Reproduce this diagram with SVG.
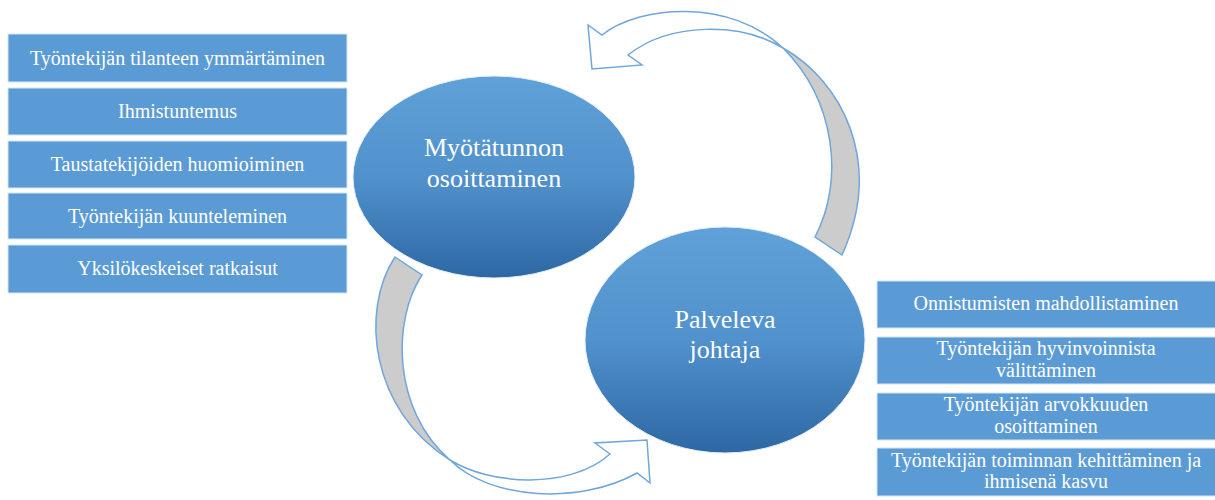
<svg xmlns="http://www.w3.org/2000/svg" width="1215" height="500" viewBox="0 0 1215 500">
<defs>
<linearGradient id="eg" x1="0" y1="0" x2="0" y2="1">
<stop offset="0" stop-color="#5fa1d8"/>
<stop offset="0.5" stop-color="#5191cc"/>
<stop offset="1" stop-color="#2d68a4"/>
</linearGradient>
<style>
.box{fill:#5b9bd5;stroke:#d6e5f4;stroke-width:1}
.bt{font-family:"Liberation Serif",serif;font-size:20px;fill:#ffffff;text-anchor:middle}
.et{font-family:"Liberation Serif",serif;font-size:26px;fill:#ffffff;text-anchor:middle}
.ell{fill:url(#eg);stroke:#e4eef8;stroke-width:1}
.aw{fill:#ffffff;stroke:#6fa6dc;stroke-width:1.5;stroke-linejoin:miter}
.ag{fill:#cccccc;stroke:#6fa6dc;stroke-width:1.5}
</style>
</defs>
<rect width="1215" height="500" fill="#ffffff"/>
<g id="connectors">
<g id="arrow-top">
<path class="ag" d="M783,48 C840,80 885,160 842,255 L815,237 C845,180 835,100 783,48 Z"/>
<path class="aw" d="M602,35 C640,5 730,-2 783,48 C740,22 670,22 628,55 L642,65 L592,69 L588,25 Z"/>
</g>
<g id="arrow-bottom">
<path class="ag" d="M395,257 L422,275 C392,320 392,410 450,460 C370,410 360,310 395,257 Z"/>
<path class="aw" d="M450,460 C490,500 580,505 637,473 L650,483 L647,440 L595,443 L610,454 C570,490 490,485 450,460 Z"/>
</g>
</g>
<g id="node-myotatunto">
<ellipse class="ell" cx="494" cy="177" rx="141" ry="101"/>
<text class="et" x="494" y="156">Myötätunnon</text>
<text class="et" x="494" y="187">osoittaminen</text>
</g>
<g id="node-palveleva">
<ellipse class="ell" cx="725" cy="340" rx="140" ry="113"/>
<text class="et" x="725" y="328">Palveleva</text>
<text class="et" x="725" y="358">johtaja</text>
</g>
<g id="left-1"><rect class="box" x="8" y="34" width="339" height="48"/><text class="bt" x="177.5" y="65">Työntekijän tilanteen ymmärtäminen</text></g>
<g id="left-2"><rect class="box" x="8" y="88" width="339" height="47"/><text class="bt" x="177.5" y="118">Ihmistuntemus</text></g>
<g id="left-3"><rect class="box" x="8" y="141" width="339" height="47"/><text class="bt" x="177.5" y="171">Taustatekijöiden huomioiminen</text></g>
<g id="left-4"><rect class="box" x="8" y="193" width="339" height="46"/><text class="bt" x="177.5" y="223">Työntekijän kuunteleminen</text></g>
<g id="left-5"><rect class="box" x="8" y="245" width="339" height="48"/><text class="bt" x="177.5" y="275">Yksilökeskeiset ratkaisut</text></g>
<g id="right-1"><rect class="box" x="877" y="281" width="339" height="47"/><text class="bt" x="1046" y="310">Onnistumisten mahdollistaminen</text></g>
<g id="right-2"><rect class="box" x="877" y="337" width="339" height="47"/><text class="bt" x="1046" y="355">Työntekijän hyvinvoinnista</text><text class="bt" x="1046" y="377">välittäminen</text></g>
<g id="right-3"><rect class="box" x="877" y="393" width="339" height="47"/><text class="bt" x="1046" y="411">Työntekijän arvokkuuden</text><text class="bt" x="1046" y="433">osoittaminen</text></g>
<g id="right-4"><rect class="box" x="877" y="448" width="339" height="48"/><text class="bt" x="1046" y="467">Työntekijän toiminnan kehittäminen ja</text><text class="bt" x="1046" y="488">ihmisenä kasvu</text></g>
</svg>
